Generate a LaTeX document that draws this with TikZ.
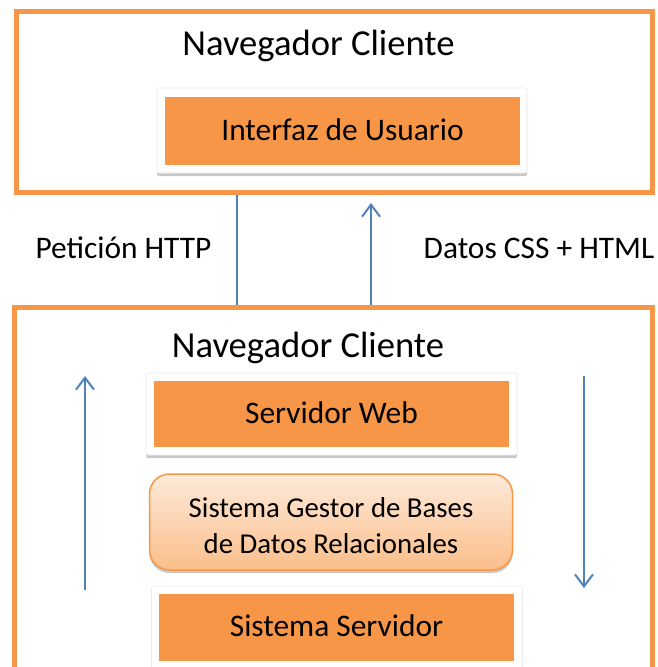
\documentclass[tikz,border=0pt]{standalone}
\usepackage{fontspec}
\setmainfont{Carlito}
\usetikzlibrary{arrows.meta,shadows}
\definecolor{accor}{HTML}{F79646}
\definecolor{accblue}{HTML}{4F81BD}
\definecolor{peachtop}{HTML}{FDEADA}
\definecolor{peachbot}{HTML}{FBBE8A}
\begin{document}
\begin{tikzpicture}[x=1pt,y=-1pt,
  frame/.style={draw=accor, line width=5pt, fill=white, inner sep=0pt},
  panel/.style={fill=white, draw=black!8, line width=0.6pt, rounded corners=2pt, inner sep=0pt,
    drop shadow={shadow xshift=0pt, shadow yshift=-3pt, opacity=0.3, fill=black!70}},
  orangebox/.style={fill=accor, inner sep=0pt, text height=19.8pt, text depth=0pt,
    font=\fontsize{31.4}{38}\selectfont},
  gestorbox/.style={draw=accor, line width=1.5pt, rounded corners=20pt, inner sep=0pt,
    top color=peachtop, bottom color=peachbot, align=center,
    font=\fontsize{28.8}{35.5}\selectfont,
    drop shadow={shadow xshift=0pt, shadow yshift=-3pt, opacity=0.3, fill=black!70}},
  titletext/.style={font=\fontsize{36.6}{44}\selectfont, inner sep=0pt, anchor=base},
  labeltext/.style={font=\fontsize{31.4}{38}\selectfont, inner sep=0pt, anchor=base},
  wire/.style={draw=accblue, line width=2pt},
  flow/.style={draw=accblue, line width=2pt, -{Straight Barb[length=12pt,width=18pt]}}
]
\useasboundingbox (0,0) rectangle (657,667);
\clip (0,0) rectangle (657,667);
\fill[white] (0,0) rectangle (657,667);

% outer frames
\node[frame, minimum width=636pt, minimum height=181pt] (topbox) at (334.5,102) {};
\node[frame, minimum width=637.5pt, minimum height=392.5pt] (botbox) at (333.25,503.75) {};

% titles
\node[titletext] (t1) at (318.5,55) {Navegador Cliente};
\node[titletext] (t2) at (308,357) {Navegador Cliente};

% user interface
\node[panel, minimum width=370pt, minimum height=85pt] (p1) at (342,130.5) {};
\node[orangebox, minimum width=355pt, minimum height=68pt] (ui) at (342.5,131) {Interfaz de Usuario};

% web server
\node[panel, minimum width=371pt, minimum height=82pt] (p2) at (331.5,414) {};
\node[orangebox, minimum width=355pt, minimum height=66pt] (web) at (331.5,414) {Servidor Web};

% dbms
\node[gestorbox, minimum width=363pt, minimum height=96pt] (dbms) at (331,522)
  {\rule{0pt}{27pt}Sistema Gestor de Bases\\de Datos Relacionales};

% server system
\node[panel, minimum width=371pt, minimum height=90pt] (p3) at (337,631) {};
\node[orangebox, minimum width=355pt, minimum height=67pt] (srv) at (336.5,627) {Sistema Servidor};

% labels
\node[labeltext] (req) at (123.5,258) {Petición HTTP};
\node[labeltext] (resp) at (539,258) {Datos CSS + HTML};

% connectors between frames
\coordinate (l1) at (237,0);
\coordinate (a1tip) at (371,203);
\draw[wire] (topbox.south -| l1) -- (botbox.north -| l1);
\draw[flow] (botbox.north -| a1tip) -- (a1tip);

% arrows inside lower frame
\coordinate (la0) at (85,590);
\coordinate (la1) at (85,376);
\coordinate (ra0) at (584,376);
\coordinate (ra1) at (584,588);
\draw[flow] (la0) -- (la1);
\draw[flow] (ra0) -- (ra1);
\end{tikzpicture}
\end{document}
